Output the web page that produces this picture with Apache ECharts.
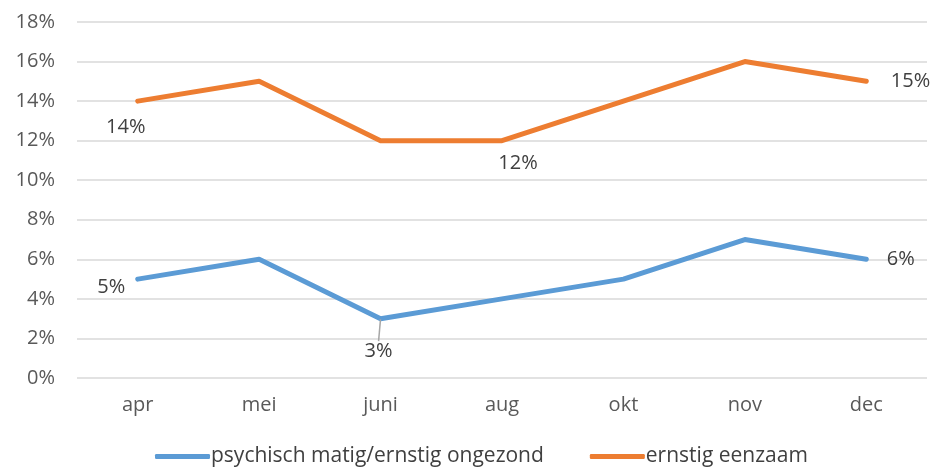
<!DOCTYPE html>
<html><head><meta charset="utf-8">
<script src="https://cdn.jsdelivr.net/npm/echarts@6/dist/echarts.min.js"></script>
<style>html,body{margin:0;padding:0;background:#fff}#c{width:933px;height:473px}</style>
</head><body><div id="c"></div>
<script>
const categories = ['apr','mei','juni','aug','okt','nov','dec'];
const psychisch = [5,6,3,4,5,7,6];
const eenzaam = [14,15,12,12,14,16,15];
const seriesNames = ['psychisch matig/ernstig ongezond','ernstig eenzaam'];

const FONT = '"Open Sans", sans-serif';
const FS = 20;
const labelBase = {show:true, color:'#404040', fontSize:FS, fontFamily:FONT, formatter: p => p.value + '%'};

function build(values, labelCfg){
  return values.map((v,i) => {
    const item = {value:v};
    if (labelCfg[i]) {
      item.label = Object.assign({}, labelBase, labelCfg[i].label);
      if (labelCfg[i].labelLine) item.labelLine = labelCfg[i].labelLine;
    }
    return item;
  });
}

const blueLabels = {
  0:{label:{position:'left', distance:12}},
  2:{label:{position:'bottom', distance:4}, labelLine:{show:true, lineStyle:{color:'#a6a6a6', width:1.5}}},
  6:{label:{position:'right', distance:20}}
};
const orangeLabels = {
  0:{label:{position:'bottom', distance:16, offset:[-12,0]}},
  3:{label:{position:'bottom', distance:12, offset:[16,0]}},
  6:{label:{position:'right', distance:24}}
};

const chart = echarts.init(document.getElementById('c'), null, {renderer:'canvas'});
chart.setOption({
  animation:false,
  grid:{left:77, right:6, top:22, bottom:95},
  xAxis:{type:'category', data:categories, boundaryGap:true,
    axisLine:{show:false}, axisTick:{show:false},
    axisLabel:{color:'#595959', fontSize:FS, fontFamily:FONT, margin:17}},
  yAxis:{type:'value', min:0, max:18, interval:2,
    axisLabel:{color:'#595959', fontSize:FS, fontFamily:FONT, formatter:'{value}%', margin:22},
    splitLine:{lineStyle:{color:'#d9d9d9', width:1.5}}},
  legend:{bottom:1, left:150, itemWidth:55, itemHeight:5, itemGap:46,
    textStyle:{color:'#404040', fontSize:21, fontFamily:FONT, padding:[0,0,0,-4]},
    icon:'roundRect',
    data:seriesNames},
  series:[
    {name:seriesNames[0], type:'line', data:build(psychisch, blueLabels),
     symbol:'circle', symbolSize:1, showSymbol:true,
     lineStyle:{width:5, color:'#5B9BD5', cap:'round', join:'round'}, itemStyle:{color:'#5B9BD5'},
     label:{show:false},
     labelLayout: p => p.dataIndex === 2 ? {dy: 18, dx: -2} : (p.dataIndex === 0 ? {dy: 8} : {})},
    {name:seriesNames[1], type:'line', data:build(eenzaam, orangeLabels),
     symbol:'circle', symbolSize:1, showSymbol:true,
     lineStyle:{width:5, color:'#ED7D31', cap:'round', join:'round'}, itemStyle:{color:'#ED7D31'},
     label:{show:false}}
  ]
});
</script></body></html>
